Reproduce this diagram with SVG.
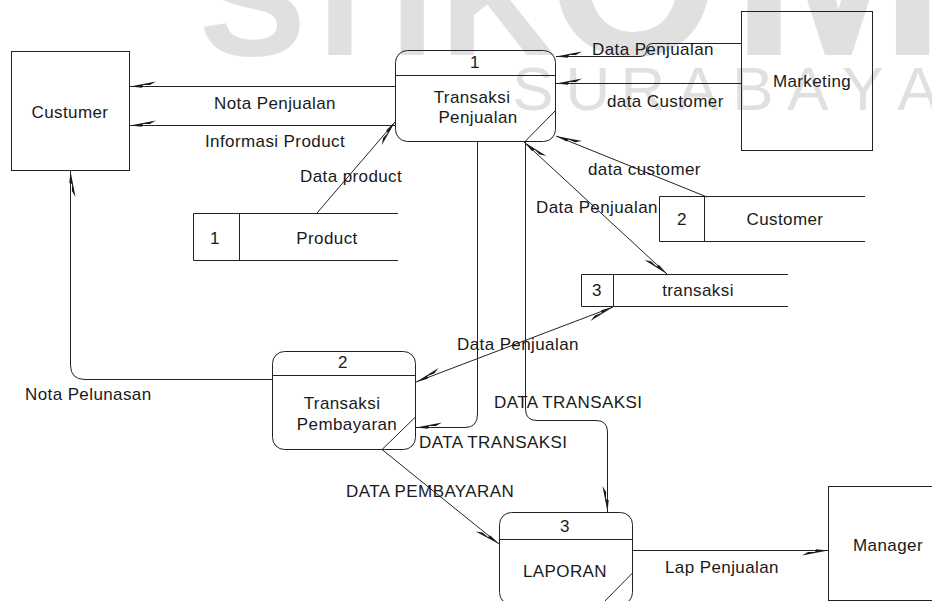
<svg xmlns="http://www.w3.org/2000/svg" width="932" height="601" viewBox="0 0 932 601">
  <style>
    text { font-family: "Liberation Sans", Arial, sans-serif; font-size: 17px; letter-spacing: 0.4px; fill: #1a1a1a; }
    .mid { text-anchor: middle; }
    .box { fill: none; stroke: #222; stroke-width: 1; }
    .flow { fill: none; stroke: #222; stroke-width: 1; }
    text.wm-big { fill: #e0e0e0; font-size: 160px; font-weight: bold; letter-spacing: 0; }
    text.wm-small { fill: #e0e0e0; font-size: 62px; letter-spacing: 0; text-anchor: middle; }
  </style>
  <defs>
    <!-- half "lightning" arrowhead used on every data flow -->
    <marker id="head" markerUnits="userSpaceOnUse" markerWidth="30" markerHeight="12" refX="0" refY="0" orient="auto" overflow="visible">
      <path d="M0,0 L-26,5 L-20,1.4 L-13,1.6 L-12,-1.2 Z" fill="#1a1a1a"/>
    </marker>
    <marker id="tail" markerUnits="userSpaceOnUse" markerWidth="30" markerHeight="12" refX="0" refY="0" orient="auto-start-reverse" overflow="visible">
      <path d="M0,0 L-26,5 L-20,1.4 L-13,1.6 L-12,-1.2 Z" fill="#1a1a1a"/>
    </marker>
  </defs>

  <rect width="932" height="601" fill="#ffffff"/>

  <!-- background watermark -->
  <g id="watermark">
    <text class="wm-big" y="55"><tspan x="199">S</tspan><tspan x="291">T</tspan><tspan x="390">I</tspan><tspan x="440">K</tspan><tspan x="548" style="font-size:220px">O</tspan><tspan x="730" style="font-size:260px">M</tspan></text>
    <text class="wm-small" x="533 588 643 698 753 808 863 918" y="110">SURABAYA</text>
  </g>

  <!-- data flows -->
  <g id="connectors">
    <path class="flow" d="M395,86.5 H130" marker-end="url(#head)"/>
    <path class="flow" d="M395,125.5 H130" marker-end="url(#head)"/>
    <path class="flow" d="M317,213 L395,122" marker-end="url(#head)"/>
    <path class="flow" d="M741,43.5 H653 Q646.5,43.5 646.5,50 Q646.5,56.5 640,56.5 H556" marker-end="url(#head)"/>
    <path class="flow" d="M741,83.5 H556" marker-end="url(#head)"/>
    <path class="flow" d="M707,197 L556,136" marker-end="url(#head)"/>
    <path class="flow" d="M524,142 L667,274" marker-start="url(#tail)" marker-end="url(#head)"/>
    <path class="flow" d="M477.5,141.5 V414 Q477.5,427.5 465,427.5 H416" marker-end="url(#head)"/>
    <path class="flow" d="M525.5,141.5 V409 Q525.5,420.5 537,420.5 H596 Q607.5,420.5 607.5,432 V512" marker-end="url(#head)"/>
    <path class="flow" d="M416,382 L613,307" marker-start="url(#tail)" marker-end="url(#head)"/>
    <path class="flow" d="M272.5,379.5 H85 Q70.5,379.5 70.5,365 V171" marker-end="url(#head)"/>
    <path class="flow" d="M382,449.5 L499,544" marker-end="url(#head)"/>
    <path class="flow" d="M632.5,550.5 H828" marker-end="url(#head)"/>
  </g>

  <!-- flow labels -->
  <g id="labels">
    <text class="mid" x="275" y="109">Nota Penjualan</text>
    <text class="mid" x="275" y="147">Informasi Product</text>
    <text x="300" y="182">Data product</text>
    <text x="592" y="55">Data Penjualan</text>
    <text x="607" y="107">data Customer</text>
    <text x="588" y="175">data customer</text>
    <text x="536" y="213">Data Penjualan</text>
    <text x="457" y="350">Data Penjualan</text>
    <text x="494" y="408">DATA TRANSAKSI</text>
    <text x="419" y="448">DATA TRANSAKSI</text>
    <text x="346" y="497">DATA PEMBAYARAN</text>
    <text x="25" y="400">Nota Pelunasan</text>
    <text x="665" y="573">Lap Penjualan</text>
  </g>

  <!-- external entities -->
  <g id="custumer">
    <rect class="box" x="11.5" y="51.5" width="118" height="119"/>
    <text class="mid" x="70" y="118">Custumer</text>
  </g>
  <g id="marketing">
    <rect class="box" x="741.5" y="11.5" width="131" height="139"/>
    <text class="mid" x="812" y="87">Marketing</text>
  </g>
  <g id="manager">
    <rect class="box" x="828.5" y="486.5" width="120" height="114"/>
    <text class="mid" x="888" y="551">Manager</text>
  </g>

  <!-- processes -->
  <g id="proc-1">
    <rect class="box" x="395.5" y="50.5" width="160" height="91" rx="12"/>
    <path class="box" d="M395.5,75.5 H555.5 M555.5,110.5 L525,141.5"/>
    <text class="mid" x="475" y="68">1</text>
    <text class="mid" x="472" y="103">Transaksi</text>
    <text class="mid" x="478" y="123">Penjualan</text>
  </g>
  <g id="proc-2">
    <rect class="box" x="272.5" y="351.5" width="143" height="98" rx="12"/>
    <path class="box" d="M272.5,375.5 H415.5 M415.5,417 L382,449.5"/>
    <text class="mid" x="343" y="368">2</text>
    <text class="mid" x="342" y="409">Transaksi</text>
    <text class="mid" x="347" y="430">Pembayaran</text>
  </g>
  <g id="proc-3">
    <rect class="box" x="499.5" y="512.5" width="133" height="92" rx="12"/>
    <path class="box" d="M499.5,539.5 H632.5 M632.5,573 L602,604"/>
    <text class="mid" x="565" y="532">3</text>
    <text class="mid" x="565" y="577">LAPORAN</text>
  </g>

  <!-- data stores -->
  <g id="store-1">
    <path class="box" d="M398,213.5 H193.5 V260.5 H398 M239.5,213.5 V260.5"/>
    <text class="mid" x="215" y="244">1</text>
    <text class="mid" x="327" y="244">Product</text>
  </g>
  <g id="store-2">
    <path class="box" d="M865,196.5 H659.5 V241.5 H865 M704.5,196.5 V241.5"/>
    <text class="mid" x="682" y="225">2</text>
    <text class="mid" x="785" y="225">Customer</text>
  </g>
  <g id="store-3">
    <path class="box" d="M788,274.5 H581.5 V306.5 H788 M613.5,274.5 V306.5"/>
    <text class="mid" x="597" y="296">3</text>
    <text class="mid" x="698" y="296">transaksi</text>
  </g>
</svg>
